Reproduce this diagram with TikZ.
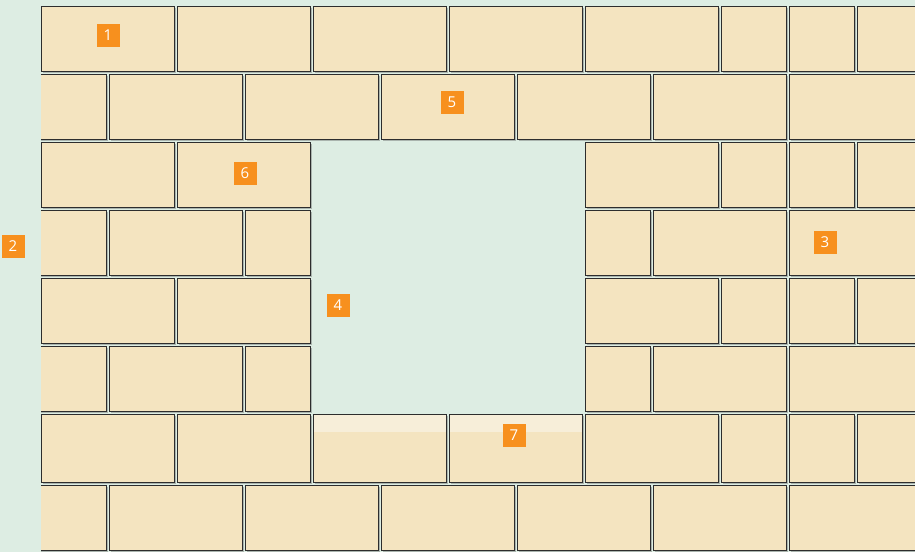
\documentclass[tikz,border=0pt]{standalone}
\usepackage{fontspec}
\setmainfont{Open Sans}
\usetikzlibrary{shadows}
\definecolor{mint}{RGB}{221,237,227}
\definecolor{sand}{RGB}{244,228,192}
\definecolor{sandhi}{RGB}{247,238,217}
\definecolor{mortar}{RGB}{45,45,45}
\definecolor{tangerine}{RGB}{247,144,30}
\tikzset{
  brick/.style={draw=mortar,fill=sand,line width=1pt,inner sep=0pt,anchor=north west,
    drop shadow={shadow xshift=1pt,shadow yshift=-1pt,opacity=0.35,fill=black!70}},
  sill/.style={brick,path picture={
    \fill[sandhi] (path picture bounding box.north west) rectangle ([yshift=-17pt]path picture bounding box.north east);}},
  badge/.style={fill=tangerine,text=white,minimum size=23pt,inner sep=0pt,
    font=\fontsize{15}{15}\selectfont},
}

\begin{document}
\begin{tikzpicture}[x=1pt,y=-1pt]
  \fill[mint] (0,0) rectangle (915,552);
  \useasboundingbox (0,0) rectangle (915,552);
  % wall, clipped on the left edge
  \begin{scope}
    \clip (41,0) rectangle (915,552);
    \foreach \y/\h/\cols [count=\r] in {
      6/65/{41/133,177/133,313/133,449/133,585/133,721/65,789/65,857/133},
      74/65/{-27/133,109/133,245/133,381/133,517/133,653/133,789/133},
      142/65/{41/133,177/133,585/133,721/65,789/65,857/133},
      210/65/{-27/133,109/133,245/65,585/65,653/133,789/133},
      278/65/{41/133,177/133,585/133,721/65,789/65,857/133},
      346/65/{-27/133,109/133,245/65,585/65,653/133,789/133},
      414/68/{41/133,177/133,585/133,721/65,789/65,857/133},
      485/65/{-27/133,109/133,245/133,381/133,517/133,653/133,789/133}}{
      \foreach \x/\w [count=\c] in \cols
        \node[brick,minimum width=\w pt,minimum height=\h pt] (b\r-\c) at (\x,\y) {};
    }
    % sill under the opening
    \node[sill,minimum width=133pt,minimum height=68pt] (s1) at (313,414) {};
    \node[sill,minimum width=133pt,minimum height=68pt] (s2) at (449,414) {};
  \end{scope}
  % callouts
  \node[badge] (n1) at (108,35) {1};
  \node[badge] (n2) at (13,246) {2};
  \node[badge] (n3) at (825,242) {3};
  \node[badge] (n4) at (338,305) {4};
  \node[badge] (n5) at (452,102) {5};
  \node[badge] (n6) at (245,173) {6};
  \node[badge] (n7) at (514,435) {7};
\end{tikzpicture}
\end{document}
